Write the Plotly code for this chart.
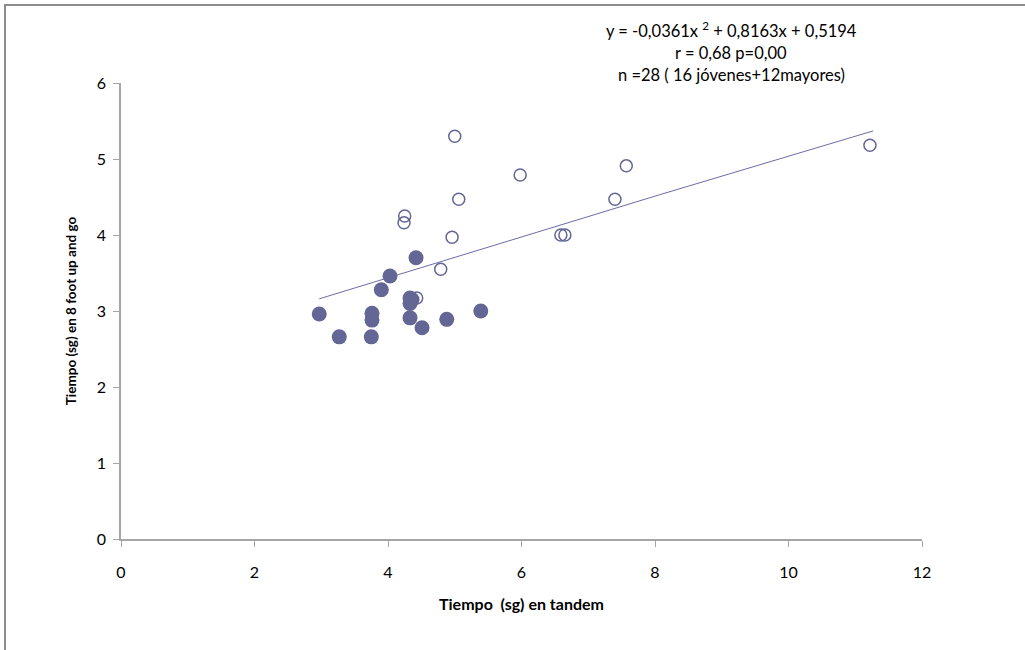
import plotly.graph_objects as go

# Open circles
open_x = [5.00, 5.98, 7.57, 5.06, 4.25, 4.24, 7.40, 4.96, 6.59, 6.65, 4.79, 11.22, 4.43]
open_y = [5.30, 4.79, 4.91, 4.47, 4.25, 4.16, 4.47, 3.97, 4.00, 4.00, 3.55, 5.18, 3.17]

# Filled circles
fill_x = [2.97, 3.27, 3.75, 3.76, 3.76, 3.90, 4.03, 4.42, 4.33, 4.51, 4.88, 5.39, 4.33, 4.33, 4.36]
fill_y = [2.96, 2.66, 2.66, 2.97, 2.88, 3.28, 3.46, 3.70, 2.91, 2.78, 2.89, 3.00, 3.17, 3.10, 3.15]

# Trend line
trend_x = [2.97, 5.68, 8.07, 11.27]
trend_y = [3.16, 3.89, 4.53, 5.37]

x_ticks = [0, 2, 4, 6, 8, 10, 12]
y_ticks = [0, 1, 2, 3, 4, 5, 6]

annot_lines = [
    "y = -0,0361x <sup>2</sup> + 0,8163x + 0,5194",
    "r = 0,68 p=0,00",
    "n =28 ( 16 jóvenes+12mayores)",
]

col = "#646695"
font = "Lato, 'Open Sans', sans-serif"

fig = go.Figure()
fig.add_trace(go.Scatter(x=trend_x, y=trend_y, mode="lines",
                         line=dict(color="#6A6CA6", width=1), hoverinfo="skip"))
fig.add_trace(go.Scatter(x=open_x, y=open_y, mode="markers",
                         marker=dict(symbol="circle-open", size=12, color=col,
                                     line=dict(width=1.5, color=col))))
fig.add_trace(go.Scatter(x=fill_x, y=fill_y, mode="markers",
                         marker=dict(symbol="circle", size=15, color=col,
                                     line=dict(width=0))))

axis_common = dict(showgrid=False, zeroline=False, showline=True, linecolor="#A6A6A6",
                   linewidth=1.5, ticks="outside", tickcolor="#A6A6A6", ticklen=6,
                   tickfont=dict(family=font, size=16, color="#000"))

fig.update_layout(
    width=1025, height=650,
    margin=dict(l=121, r=103, t=83, b=111),
    paper_bgcolor="white", plot_bgcolor="white",
    showlegend=False,
    font=dict(family=font, color="#000"),
    xaxis=dict(range=[0, 12], tickvals=x_ticks, ticklabelstandoff=12, **axis_common,
               title=dict(text="<b>Tiempo&nbsp;&nbsp;(sg) en tandem</b>",
                          font=dict(size=16, family=font), standoff=19)),
    yaxis=dict(range=[0, 6], tickvals=y_ticks, ticklabelstandoff=4, **axis_common,
               title=dict(text="<b>Tiempo (sg) en 8 foot up and go</b>",
                          font=dict(size=13.5, family=font), standoff=17)),
)

for i, t in enumerate(annot_lines):
    fig.add_annotation(text=t, xref="paper", yref="paper", x=(731 - 121) / 801,
                       y=(539 - (30 + 22.5 * i)) / 456, showarrow=False,
                       xanchor="center", yanchor="middle",
                       font=dict(family=font, size=16.5, color="#000"))

fig.add_shape(type="rect", xref="paper", yref="paper",
              x0=(5 - 121) / 801, x1=1.2, y0=-0.3, y1=(539 - 5) / 456,
              line=dict(color="#8C8C8C", width=2), layer="below")

fig.write_html("out.html")
